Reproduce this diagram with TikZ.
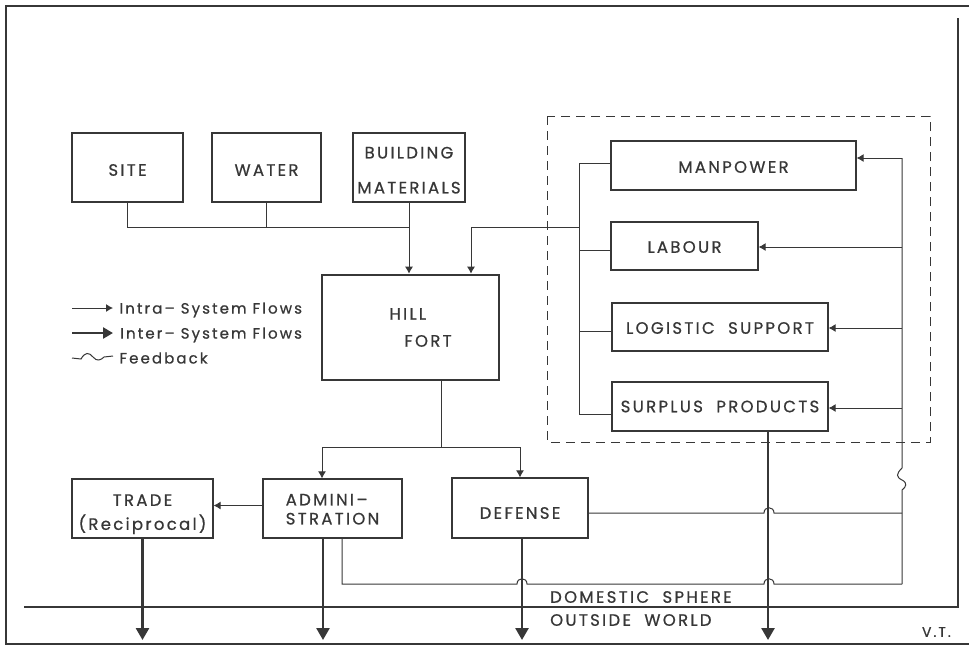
\documentclass[tikz,border=0pt]{standalone}
\usepackage{fontspec}
\setmainfont{Poppins}[LetterSpace=14,FakeBold=0.7]
\usetikzlibrary{arrows.meta}
\definecolor{ink}{RGB}{55,55,55}
\newcommand{\fs}[1]{\fontsize{16.5}{#1}\selectfont}
\newcommand{\vc}[2]{\raisebox{-\dimexpr #1pt+5.75pt\relax}[0pt][0pt]{#2}}
\newcommand{\topr}[1]{\rule{0pt}{#1pt}}
\begin{document}
\begin{tikzpicture}[x=1pt,y=-1pt,
  line/.style={draw=ink,line width=1pt},
  flow/.style={draw=ink,line width=1pt,-{Latex[length=7pt,width=8pt]}},
  bigflow/.style={draw=ink,line width=2.6pt,-{Triangle[length=12pt,width=13pt]}},
  box/.style={draw=ink,line width=1.2pt,inner sep=0pt,align=center,text=ink,font=\fs{20}},
  lbl/.style={text=ink,inner sep=0pt,font=\fs{20}},
  leg/.style={text=ink,inner sep=0pt,anchor=west,xshift=6pt,yshift=-2pt,font=\fontsize{15}{18}\selectfont},
  bound/.style={draw=ink,line width=2.6pt},
  frame/.style={draw=ink,line width=2pt},
  dashedbox/.style={draw=ink,line width=1pt,dash pattern=on 9pt off 6pt}]
\useasboundingbox (0,0) rectangle (969,646);
% frame
\draw[frame] (969,6) -- (6,6) -- (6,644) -- (969,644);
\draw[bound] (24,607) -- (958,607) -- (958,18);
% top row
\node[box,minimum width=111,minimum height=69] (site) at (127.5,167.5) {\vc{2.5}{SITE}};
\node[box,minimum width=109,minimum height=69] (water) at (266.5,167.5) {\vc{2.5}{WATER}};
\node[box,minimum width=112,minimum height=69,font=\fs{35}] (bm) at (409,167.5) {\topr{17}BUILDING\\MATERIALS};
% hill fort
\node[box,line width=2.6pt,minimum width=177,minimum height=105,align=left,font=\fs{27}] (hf) at (410.5,327.5) {\hspace*{20pt}HILL\\\hspace*{35pt}FORT};
% dashed region
\draw[dashedbox] (547,116) rectangle (930,442);
\node[box,minimum width=245,minimum height=49] (mp) at (733.5,165.5) {\vc{1.5}{MANPOWER}};
\node[box,minimum width=147,minimum height=48] (lab) at (684.5,246) {\vc{1}{LABOUR}};
\node[box,minimum width=216,minimum height=48] (ls) at (720,327) {\vc{1}{LOGISTIC\ \ SUPPORT}};
\node[box,minimum width=216,minimum height=49] (sp) at (720,406.5) {\vc{0}{SURPLUS\ \ PRODUCTS}};
% bottom row
\node[box,minimum width=141,minimum height=59,font=\fs{24}] (trade) at (142.5,508.5) {\topr{23}TRADE\\(Reciprocal)};
\node[box,minimum width=139,minimum height=59,align=left,font=\fs{19}] (adm) at (332.5,508.5) {\topr{13}ADMINI–\\STRATION};
\node[box,minimum width=136,minimum height=60] (def) at (520,508) {\vc{5}{DEFENSE}};
% inputs to hill fort
\coordinate (j1) at (409,227);
\draw[line] (site.south) |- (j1);
\draw[line] (water.south) -- (water.south |- j1);
\draw[flow] (bm.south) -- (bm.south |- hf.north);
% resource bus
\coordinate (bustop) at (579,163);
\coordinate (busbot) at (579,414);
\coordinate (busj) at (579,227);
\draw[line] (mp.west |- bustop) -- (bustop) -- (busbot) -- (sp.west |- busbot);
\draw[line] ([yshift=-4]lab.west) -- ([yshift=-4]lab.west -| bustop);
\draw[line] ([yshift=-4]ls.west) -- ([yshift=-4]ls.west -| bustop);
\draw[flow] (busj) -| ([xshift=60.5]hf.north);
% feedback return line
\coordinate (fbtop) at (902,158);
\coordinate (fbbot) at (902,584);
\draw[flow] (fbtop) -- (mp.east |- fbtop);
\draw[flow] ([yshift=-1]lab.east -| fbtop) -- ([yshift=-1]lab.east);
\draw[flow] ([yshift=-1]ls.east -| fbtop) -- ([yshift=-1]ls.east);
\draw[flow] ([yshift=-1.5]sp.east -| fbtop) -- ([yshift=-1.5]sp.east);
\draw[line] (fbtop) -- (902,468) .. controls (896,474) and (896,477) .. (902,480) .. controls (908,483) and (906,487) .. (902,490) -- (fbbot);
% hill fort outputs
\coordinate (split) at (441,447);
\draw[line] (hf.south -| split) -- (split);
\draw[flow] (split) -| ([xshift=-10.5]adm.north);
\draw[flow] (split) -| (def.north);
\draw[flow] ([yshift=3]adm.west) -- ([yshift=3]adm.west -| trade.east);
% feedback from defense and administration
\draw[line] ([yshift=-5]def.east) -- (764,513) .. controls (764,506) and (774,506) .. (774,513) -- ([yshift=-5]def.east -| fbtop);
\draw[line] ([xshift=9.5]adm.south) |- (517,584) .. controls (517,577) and (527,577) .. (527,584) -- (764,584) .. controls (764,577) and (774,577) .. (774,584) -- (fbbot);
% inter-system flows
\draw[bigflow] (trade.south) -- (trade.south |- 0,640);
\draw[bigflow] ([xshift=-9.5]adm.south) -- ([xshift=-9.5]adm.south |- 0,640);
\draw[bigflow] ([xshift=2]def.south) -- ([xshift=2]def.south |- 0,640);
\draw[bigflow] ([xshift=48]sp.south) -- ([xshift=48]sp.south |- 0,640);
% legend
\coordinate (l1) at (72,308);
\coordinate (l2) at (72,333);
\coordinate (l3) at (72,358);
\draw[flow] (l1) -- ++(41,0) node[leg] (t1) {Intra– System Flows};
\draw[bigflow,-{Triangle[length=10pt,width=11pt]}] (l2) -- ++(41,0) node[leg] (t2) {Inter– System Flows};
\draw[line] (l3) -- ++(9,1) .. controls (85,352) and (89,352) .. (93,357) .. controls (97,362) and (101,360) .. (104,357) -- (113,356) node[leg] (t3) {Feedback};
% sphere labels
\node[lbl,anchor=west] (dom) at (550,597) {DOMESTIC\ \ SPHERE};
\node[lbl,anchor=west] (out) at (550,620) {OUTSIDE\ \ WORLD};
\node[lbl,anchor=east,font=\fontsize{14}{16}\selectfont] (vt) at (951,632) {V.T.};
\end{tikzpicture}
\end{document}
